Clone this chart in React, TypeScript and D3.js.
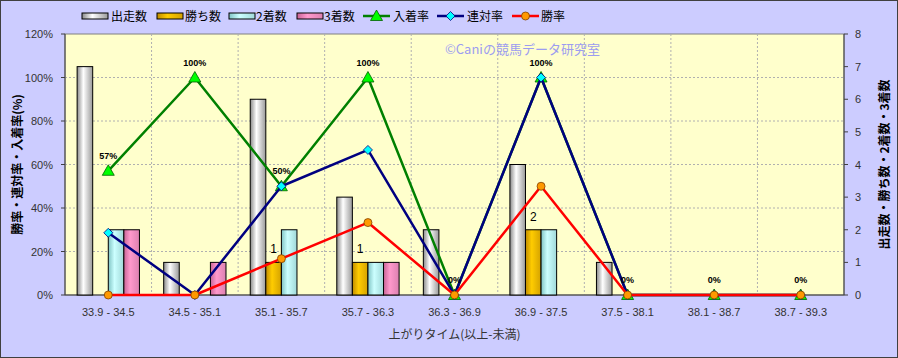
import React from 'react';
import * as d3 from 'd3';

const categories = ['33.9 - 34.5', '34.5 - 35.1', '35.1 - 35.7', '35.7 - 36.3', '36.3 - 36.9', '36.9 - 37.5', '37.5 - 38.1', '38.1 - 38.7', '38.7 - 39.3'];
const runs = [7, 1, 6, 3, 2, 4, 1, 0, 0];
const wins = [0, 0, 1, 1, 0, 2, 0, 0, 0];
const seconds = [2, 0, 2, 1, 0, 2, 0, 0, 0];
const thirds = [2, 1, 0, 1, 0, 0, 0, 0, 0];
const placeRate = [57.1, 100, 50, 100, 0, 100, 0, 0, 0];
const quinellaRate = [28.6, 0, 50, 66.7, 0, 100, 0, 0, 0];
const winRate = [0, 0, 16.7, 33.3, 0, 50, 0, 0, 0];
const placeLabels = ['57%', '100%', '50%', '100%', '0%', '100%', '0%', '0%', '0%'];
const leftTicks = [0, 20, 40, 60, 80, 100, 120];
const rightTicks = [0, 1, 2, 3, 4, 5, 6, 7, 8];

const W = 898, H = 358;
const L = 65, R = 844, T = 34, B = 295;
const LAT = '"Liberation Sans", "Noto Sans CJK JP", sans-serif';
const CJK = '"Noto Sans CJK JP", "Liberation Sans", sans-serif';

const barSeries = [
  { name: '出走数', data: runs, id: 'gRun', stops: ['#8a8a8a', '#ffffff', '#9a9a9a'] },
  { name: '勝ち数', data: wins, id: 'gWin', stops: ['#c08c00', '#ffcc00', '#d4a200'] },
  { name: '2着数', data: seconds, id: 'gSec', stops: ['#80c4c4', '#ccffff', '#a0d8d8'] },
  { name: '3着数', data: thirds, id: 'gThi', stops: ['#c86496', '#ff99cc', '#dc80b0'] },
];

const lineSeries = [
  { name: '入着率', data: placeRate, color: '#008000', fill: '#00ff00', marker: 'tri' },
  { name: '連対率', data: quinellaRate, color: '#000080', fill: '#00ffff', marker: 'dia' },
  { name: '勝率', data: winRate, color: '#ff0000', fill: '#ff9900', marker: 'circ' },
];

function Marker({ type, x, y, fill }: { type: string; x: number; y: number; fill: string }) {
  if (type === 'tri') {
    return <path d={`M${x},${y - 6}L${x + 6},${y + 4.5}L${x - 6},${y + 4.5}Z`} fill={fill} stroke="#006000" strokeWidth={0.8} />;
  }
  if (type === 'dia') {
    return <path d={`M${x},${y - 4.5}L${x + 4.5},${y}L${x},${y + 4.5}L${x - 4.5},${y}Z`} fill={fill} stroke="#000080" strokeWidth={0.8} />;
  }
  return <circle cx={x} cy={y} r={4} fill={fill} stroke="#804000" strokeWidth={0.8} />;
}

export default function App() {
  const x = d3.scaleBand<string>().domain(categories).range([L, R]).padding(0);
  const bw = x.bandwidth();
  const inner = d3.scaleBand<string>().domain(barSeries.map(s => s.name)).range([bw * 0.14, bw * 0.86]).padding(0);
  const yL = d3.scaleLinear().domain([0, 120]).range([B, T]);
  const yR = d3.scaleLinear().domain([0, 8]).range([B, T]);
  const cx = (c: string) => (x(c) as number) + bw / 2;

  const legendBars = [
    { x: 82, tx: 111 }, { x: 157, tx: 185 }, { x: 229, tx: 256 }, { x: 297, tx: 324 },
  ];
  const legendLines = [
    { x: 363, tx: 393 }, { x: 437, tx: 467 }, { x: 512, tx: 541 },
  ];
  const ly = 16;

  return (
    <svg width={W} height={H} style={{ position: 'absolute', left: 0, top: 0 }}>
      <defs>
        {barSeries.map(s => (
          <linearGradient key={s.id} id={s.id} x1="0" x2="1" y1="0" y2="0">
            <stop offset="0" stopColor={s.stops[0]} />
            <stop offset="0.4" stopColor={s.stops[1]} />
            <stop offset="1" stopColor={s.stops[2]} />
          </linearGradient>
        ))}
      </defs>
      <rect x={0.5} y={0.5} width={W - 1} height={H - 1} fill="#ccccff" stroke="#404040" strokeWidth={1} />
      <rect x={L} y={T} width={R - L} height={B - T} fill="#ffffcc" stroke="#808080" strokeWidth={1} />

      {/* grid */}
      {leftTicks.slice(1, -1).map(t => (
        <line key={'h' + t} x1={L} x2={R} y1={yL(t)} y2={yL(t)} stroke="#b0b0b0" strokeDasharray="2,2" strokeWidth={1} />
      ))}
      {categories.slice(1).map(c => (
        <line key={'v' + c} x1={x(c)} x2={x(c)} y1={T} y2={B} stroke="#b0b0b0" strokeDasharray="2,2" strokeWidth={1} />
      ))}

      {/* watermark */}
      <text x={445} y={54} fontFamily={CJK} fontSize={13} fill="#9c9cf0">©Caniの競馬データ研究室</text>

      {/* axes */}
      <line x1={L} x2={L} y1={T} y2={B} stroke="#404040" />
      <line x1={R} x2={R} y1={T} y2={B} stroke="#404040" />
      <line x1={L} x2={R} y1={B} y2={B} stroke="#404040" />
      {leftTicks.map(t => (
        <g key={'lt' + t}>
          <line x1={L - 4} x2={L} y1={yL(t)} y2={yL(t)} stroke="#404040" />
          <text x={53} y={yL(t) + 4} textAnchor="end" fontFamily={LAT} fontSize={11} fill="#333">{t}%</text>
        </g>
      ))}
      {rightTicks.map(t => (
        <g key={'rt' + t}>
          <line x1={R} x2={R + 4} y1={yR(t)} y2={yR(t)} stroke="#404040" />
          <text x={855} y={yR(t) + 4} fontFamily={LAT} fontSize={11} fill="#333">{t}</text>
        </g>
      ))}
      {categories.map(c => (
        <text key={'xl' + c} x={cx(c)} y={316} textAnchor="middle" fontFamily={LAT} fontSize={11} fill="#333">{c}</text>
      ))}
      <text x={(L + R) / 2} y={339} textAnchor="middle" fontFamily={CJK} fontSize={12} fill="#333">上がりタイム(以上-未満)</text>
      <text transform={`translate(22,${(T + B) / 2}) rotate(-90)`} textAnchor="middle" fontFamily={CJK} fontSize={12} fontWeight="bold" fill="#000">勝率・連対率・入着率(%)</text>
      <text transform={`translate(889,${(T + B) / 2}) rotate(-90)`} textAnchor="middle" fontFamily={CJK} fontSize={12} fontWeight="bold" fill="#000">出走数・勝ち数・2着数・3着数</text>

      {/* bars */}
      {barSeries.map(s => categories.map((c, i) => {
        const v = s.data[i];
        if (!v) return null;
        const bx = (x(c) as number) + (inner(s.name) as number);
        return <rect key={s.id + i} x={bx} y={yR(v)} width={inner.bandwidth()} height={B - yR(v)} fill={`url(#${s.id})`} stroke="#000" strokeWidth={1} />;
      }))}
      {categories.map((c, i) => wins[i] ? (
        <text key={'wl' + i} x={(x(c) as number) + (inner('勝ち数') as number) + inner.bandwidth() / 2} y={yR(wins[i]) - 9} textAnchor="middle" fontFamily={LAT} fontSize={12} fill="#000">{wins[i]}</text>
      ) : null)}

      {/* lines */}
      {lineSeries.map(s => {
        const gen = d3.line<number>().x((_, i) => cx(categories[i])).y(d => yL(d));
        return (
          <g key={s.name}>
            <path d={gen(s.data) || ''} fill="none" stroke={s.color} strokeWidth={2.5} strokeLinejoin="round" />
            {s.data.map((d, i) => <Marker key={i} type={s.marker} x={cx(categories[i])} y={yL(d)} fill={s.fill} />)}
          </g>
        );
      })}
      {placeLabels.map((lab, i) => (
        <text key={'pl' + i} x={cx(categories[i])} y={yL(placeRate[i]) - 12} textAnchor="middle" fontFamily={LAT} fontSize={9} fontWeight="bold" fill="#000">{lab}</text>
      ))}

      {/* legend */}
      {barSeries.map((s, i) => (
        <g key={'lb' + s.id}>
          <rect x={legendBars[i].x} y={ly - 3} width={26} height={6} fill={`url(#${s.id})`} stroke="#000" strokeWidth={1} />
          <text x={legendBars[i].tx} y={ly + 4.5} fontFamily={CJK} fontSize={12} fill="#000">{s.name}</text>
        </g>
      ))}
      {lineSeries.map((s, i) => (
        <g key={'ll' + s.name}>
          <line x1={legendLines[i].x} x2={legendLines[i].x + 27} y1={ly} y2={ly} stroke={s.color} strokeWidth={2.5} />
          <Marker type={s.marker} x={legendLines[i].x + 13.5} y={ly} fill={s.fill} />
          <text x={legendLines[i].tx} y={ly + 4.5} fontFamily={CJK} fontSize={12} fill="#000">{s.name}</text>
        </g>
      ))}
    </svg>
  );
}
